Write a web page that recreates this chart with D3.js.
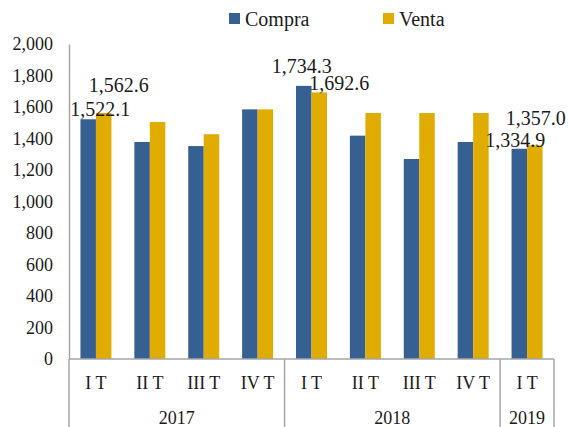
<!DOCTYPE html>
<html>
<head>
<meta charset="utf-8">
<script src="https://cdn.jsdelivr.net/npm/d3@7"></script>
<style>
  body { margin: 0; background: #fff; }
  svg text { font-family: "Liberation Serif", "Times New Roman", serif; }
</style>
</head>
<body>
<svg id="chart" width="568" height="427"></svg>
<script>
// quarters and the year each one belongs to
const quarters = ['I T', 'II T', 'III T', 'IV T', 'I T', 'II T', 'III T', 'IV T', 'I T']
const years = ['2017', '2017', '2017', '2017', '2018', '2018', '2018', '2018', '2019']
const compra = [1522.1, 1378, 1352, 1585, 1734.3, 1418, 1270, 1378, 1334.9]
const venta = [1562.6, 1505, 1427, 1585, 1692.6, 1562, 1562, 1562, 1357.0]
const seriesNames = ['Compra', 'Venta']
const yTicks = [0, 200, 400, 600, 800, 1000, 1200, 1400, 1600, 1800, 2000]
// only these bars get a value label: [series, index]
const labelled = [[0, 0], [1, 0], [0, 4], [1, 4], [0, 8], [1, 8]]

// label nudges (layout only), in px from the bar top centre
const nudges = { '0-0': [12, -10], '1-0': [15, -28], '0-4': [-2, -20], '1-4': [20, -9], '0-8': [-4, -9], '1-8': [1, -27] }

const colors = ['#366092', '#e1ac00']
const serif = '"Liberation Serif", "Times New Roman", serif'
const width = 568
const height = 427
const margin = { left: 69, right: 14, top: 44, bottom: 68 }
const plotW = width - margin.left - margin.right
const plotH = height - margin.top - margin.bottom

const svg = d3.select('#chart')
const g = svg.append('g').attr('transform', `translate(${margin.left},${margin.top})`)

const idx = d3.range(quarters.length)
const x = d3.scaleBand().domain(idx).range([0, plotW]).paddingInner(0.425).paddingOuter(0.2125)
const x1 = d3.scaleBand().domain([0, 1]).range([0, x.bandwidth()])
const y = d3.scaleLinear().domain([0, 2000]).range([plotH, 0])

const series = [compra, venta]

// bars
series.forEach((vals, s) => {
  g.append('g').selectAll('rect')
    .data(vals)
    .enter()
    .append('rect')
    .attr('x', (d, i) => x(i) + x1(s))
    .attr('width', x1.bandwidth())
    .attr('y', d => y(d))
    .attr('height', d => y(0) - y(d))
    .attr('fill', colors[s])
})

// y axis
const yAxis = g.append('g')
  .call(d3.axisLeft(y).tickValues(yTicks).tickSize(0).tickPadding(16).tickFormat(d3.format(',')))
yAxis.attr('font-family', serif)
yAxis.select('.domain').attr('stroke', '#a6a6a6').attr('stroke-width', 1.5)
yAxis.selectAll('text')
  .attr('font-family', serif)
  .attr('font-size', 18)
  .attr('fill', '#1a1a1a')

// category axis (two levels)
const step = x.step()
const axisCol = '#a6a6a6'
g.append('line')
  .attr('x1', 0).attr('x2', plotW)
  .attr('y1', plotH).attr('y2', plotH)
  .attr('stroke', axisCol).attr('stroke-width', 1.5)

const yearGroups = d3.groups(idx, i => years[i])
const bounds = [0]
yearGroups.forEach(([yr, list]) => bounds.push((d3.max(list) + 1) * step))
g.selectAll('.sep')
  .data(bounds)
  .enter()
  .append('line')
  .attr('x1', d => d).attr('x2', d => d)
  .attr('y1', plotH).attr('y2', height - margin.top)
  .attr('stroke', axisCol).attr('stroke-width', 1.5)

g.selectAll('.qlab')
  .data(idx)
  .enter()
  .append('text')
  .attr('x', i => x(i) + x.bandwidth() / 2)
  .attr('y', plotH + 30)
  .attr('text-anchor', 'middle')
  .attr('font-family', serif)
  .attr('font-size', 18)
  .attr('fill', '#1a1a1a')
  .text(i => quarters[i])

g.selectAll('.ylab')
  .data(yearGroups)
  .enter()
  .append('text')
  .attr('x', d => (d3.min(d[1]) + d3.max(d[1]) + 1) * step / 2)
  .attr('y', plotH + 65)
  .attr('text-anchor', 'middle')
  .attr('font-family', serif)
  .attr('font-size', 18)
  .attr('fill', '#1a1a1a')
  .text(d => d[0])

// value labels
const fmt = d3.format(',.1f')
g.selectAll('.vlab')
  .data(labelled)
  .enter()
  .append('text')
  .attr('x', d => x(d[1]) + x1(d[0]) + x1.bandwidth() / 2 + nudges[d[0] + '-' + d[1]][0])
  .attr('y', d => y(series[d[0]][d[1]]) + nudges[d[0] + '-' + d[1]][1])
  .attr('dy', '0.35em')
  .attr('text-anchor', 'middle')
  .attr('font-family', serif)
  .attr('font-size', 20)
  .attr('fill', '#1a1a1a')
  .text(d => fmt(series[d[0]][d[1]]))

// legend
const legendX = [229, 383]
const legend = svg.append('g')
seriesNames.forEach((name, s) => {
  legend.append('rect')
    .attr('x', legendX[s]).attr('y', 13)
    .attr('width', 11).attr('height', 11)
    .attr('fill', colors[s])
  legend.append('text')
    .attr('x', legendX[s] + 16).attr('y', 18.5)
    .attr('dy', '0.35em')
    .attr('font-family', serif)
    .attr('font-size', 20)
    .attr('fill', '#1a1a1a')
    .text(name)
})
</script>
</body>
</html>
